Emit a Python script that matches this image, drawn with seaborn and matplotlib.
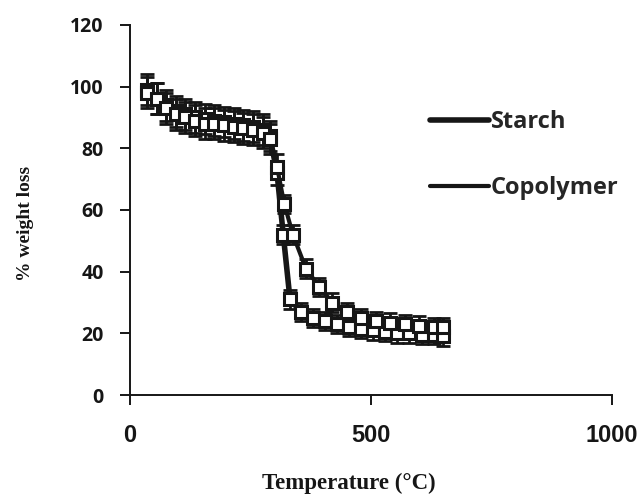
import numpy as np
import pandas as pd
import matplotlib
matplotlib.use("Agg")
import matplotlib.pyplot as plt
from matplotlib.lines import Line2D
import seaborn as sns

# TGA curves
starch_temp = [35, 55, 75, 95, 115, 135, 155, 175, 195, 215, 235, 255, 275, 290,
               305, 318, 332, 355, 380, 405, 430, 455, 480, 505, 530, 555, 580,
               605, 630, 650]
starch_loss = [99, 96, 94, 92, 91, 90, 89.5, 89, 88.5, 88, 87.5, 87, 86, 84,
               72, 52, 31, 27, 25, 24, 23, 22, 21.5, 21, 20.5, 20, 20,
               19.5, 19.5, 19]
starch_err = [5, 5, 5, 5, 5, 5, 5, 5, 5, 5, 5, 5, 5, 5,
              4, 3, 3, 3, 3, 3, 3, 3, 3, 3, 3, 3, 3,
              3, 3, 3]

copo_temp = [35, 55, 75, 95, 115, 135, 155, 175, 195, 215, 235, 255, 275, 290,
             305, 320, 338, 365, 393, 420, 450, 480, 510, 540, 570, 600, 630, 650]
copo_loss = [98, 96, 93, 91, 90, 89, 88, 88, 87.5, 87, 86.5, 86, 85, 83,
             74, 62, 52, 41, 35, 30, 27, 25, 24, 23.5, 23, 22.5, 22, 22]
copo_err = [5, 5, 5, 5, 5, 5, 5, 5, 5, 5, 5, 5, 5, 5,
            4, 3, 3, 3, 3, 3, 3, 3, 3, 3, 3, 3, 3, 3]

series = ["Starch", "Copolymer"]
line_widths = {"Starch": 4.0, "Copolymer": 3.0}
INK = "#161616"

df = pd.concat([
    pd.DataFrame({"temp": starch_temp, "loss": starch_loss, "err": starch_err, "sample": "Starch"}),
    pd.DataFrame({"temp": copo_temp, "loss": copo_loss, "err": copo_err, "sample": "Copolymer"}),
], ignore_index=True)

sns.set_style("ticks")
fig = plt.figure(figsize=(6.44, 4.97), dpi=100)
ax = fig.add_axes([0.202, 0.205, 0.748, 0.745])

for name in series:
    sub = df[df["sample"] == name]
    ax.errorbar(sub["temp"], sub["loss"], yerr=sub["err"], fmt="none",
                ecolor=INK, elinewidth=2.0, capsize=5, capthick=2.0, zorder=2)
    sns.lineplot(data=sub, x="temp", y="loss", ax=ax, color=INK,
                 lw=line_widths[name], marker="s", markersize=8,
                 markerfacecolor="white", markeredgecolor=INK,
                 markeredgewidth=2.2, sort=False, zorder=3, legend=False)

ax.set_xlim(0, 1000)
ax.set_ylim(0, 120)
ax.set_xticks([0, 500, 1000])
ax.set_yticks(np.arange(0, 121, 20))
sns.despine(ax=ax)
for s in ("left", "bottom"):
    ax.spines[s].set_linewidth(1.4)
    ax.spines[s].set_color(INK)

ax.tick_params(axis="y", direction="out", length=7, width=1.4, pad=12, colors=INK)
ax.tick_params(axis="x", direction="out", length=7, width=1.4, pad=14, colors=INK)
for lab in ax.get_yticklabels():
    lab.set_fontfamily("Open Sans")
    lab.set_fontweight("bold")
    lab.set_fontsize(14)
for lab in ax.get_xticklabels():
    lab.set_fontfamily("Liberation Sans")
    lab.set_fontweight("bold")
    lab.set_fontsize(17)

ax.set_xlabel("Temperature (°C)", fontfamily="Liberation Serif", fontweight="bold",
              fontsize=16.5, color=INK)
ax.xaxis.set_label_coords(0.455, -0.21)
ax.set_ylabel("% weight loss", fontfamily="Liberation Serif", fontweight="bold",
              fontsize=14, color=INK)
ax.yaxis.set_label_coords(-0.2, 0.465)

handles = [Line2D([], [], color=INK, lw=line_widths[n]) for n in series]
ax.legend(handles, series, loc="center left", bbox_to_anchor=(0.622, 0.648),
          frameon=False, handlelength=2.5, handletextpad=0.1, labelspacing=1.8,
          borderpad=0, borderaxespad=0,
          prop={"family": "Open Sans", "weight": "bold", "size": 17})

plt.savefig("out.png", dpi=100)
plt.close()
